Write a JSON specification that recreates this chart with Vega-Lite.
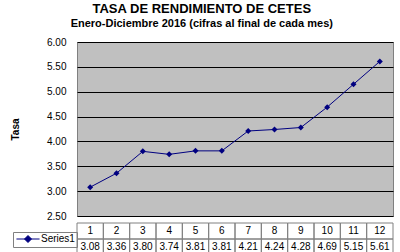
{
  "$schema": "https://vega.github.io/schema/vega-lite/v6.json",
  "padding": {"left": 10, "top": 2, "right": 4, "bottom": 2},
  "title": {
    "text": "TASA DE RENDIMIENTO DE CETES",
    "subtitle": "Enero-Diciembre 2016 (cifras al final de cada mes)",
    "anchor": "middle",
    "frame": "bounds",
    "fontSize": 13,
    "fontWeight": "bold",
    "subtitleFontSize": 11,
    "subtitleFontWeight": "bold",
    "subtitleColor": "#000000",
    "color": "#000000",
    "subtitlePadding": 2,
    "offset": 8
  },
  "data": {
    "values": [
      {"month": 1, "value": 3.08, "series": "Series1"},
      {"month": 2, "value": 3.36, "series": "Series1"},
      {"month": 3, "value": 3.80, "series": "Series1"},
      {"month": 4, "value": 3.74, "series": "Series1"},
      {"month": 5, "value": 3.81, "series": "Series1"},
      {"month": 6, "value": 3.81, "series": "Series1"},
      {"month": 7, "value": 4.21, "series": "Series1"},
      {"month": 8, "value": 4.24, "series": "Series1"},
      {"month": 9, "value": 4.28, "series": "Series1"},
      {"month": 10, "value": 4.69, "series": "Series1"},
      {"month": 11, "value": 5.15, "series": "Series1"},
      {"month": 12, "value": 5.61, "series": "Series1"}
    ]
  },
  "spacing": 0,
  "vconcat": [
    {
      "width": 316,
      "height": 174,
      "view": {"fill": "#C0C0C0", "stroke": "#808080"},
      "encoding": {
        "x": {"field": "month", "type": "ordinal", "scale": {"paddingInner": 0, "paddingOuter": 0}, "axis": null},
        "y": {
          "field": "value", "type": "quantitative",
          "scale": {"domain": [2.5, 6], "nice": false, "zero": false},
          "axis": {
            "values": [2.5, 3, 3.5, 4, 4.5, 5, 5.5, 6],
            "format": ".2f",
            "grid": true, "gridColor": "#000000", "gridOpacity": 1, "gridWidth": 1,
            "domain": false, "ticks": false,
            "labelFontSize": 10, "labelPadding": 11, "labelColor": "#000000",
            "title": "Tasa", "titleFontSize": 10, "titleFontWeight": "bold", "titleColor": "#000000",
            "titlePadding": 26
          }
        },
        "color": {
          "field": "series", "type": "nominal",
          "scale": {"range": ["#000080"]},
          "legend": {
            "orient": "none", "legendX": -64, "legendY": 190,
            "title": null,
            "symbolType": "M-3.3,0L3.3,0M0,-1L1,0L0,1L-1,0Z",
            "symbolSize": 49,
            "symbolStrokeWidth": 1,
            "symbolFillColor": "#000080",
            "symbolStrokeColor": "#000080",
            "symbolOffset": 8,
            "labelFontSize": 10,
            "labelColor": "#000000",
            "labelOffset": 8,
            "strokeColor": "#808080",
            "padding": 2
          }
        }
      },
      "layer": [
        {"mark": {"type": "line", "strokeWidth": 1}},
        {"mark": {"type": "point", "shape": "diamond", "filled": true, "size": 36, "opacity": 1}}
      ]
    },
    {
      "width": 316,
      "height": 32,
      "view": {"stroke": null},
      "encoding": {
        "x": {"field": "month", "type": "ordinal", "scale": {"paddingInner": 0, "paddingOuter": 0}, "axis": null}
      },
      "layer": [
        {
          "mark": {"type": "rect", "filled": false, "color": "#808080", "strokeWidth": 1},
          "encoding": {"y": {"datum": "a", "type": "nominal", "scale": {"domain": ["a", "b"], "paddingInner": 0, "paddingOuter": 0}, "axis": null}}
        },
        {
          "mark": {"type": "rect", "filled": false, "color": "#808080", "strokeWidth": 1},
          "encoding": {"y": {"datum": "b", "type": "nominal"}}
        },
        {
          "mark": {"type": "text", "fontSize": 10, "color": "#000000"},
          "encoding": {"y": {"datum": "a", "type": "nominal"}, "text": {"field": "month"}}
        },
        {
          "mark": {"type": "text", "fontSize": 10, "color": "#000000"},
          "encoding": {"y": {"datum": "b", "type": "nominal"}, "text": {"field": "value", "format": ".2f"}}
        }
      ]
    }
  ],
  "config": {
    "font": "Liberation Sans"
  }
}
